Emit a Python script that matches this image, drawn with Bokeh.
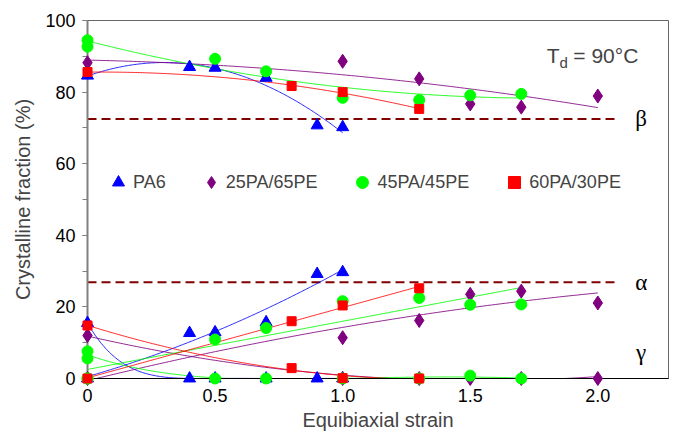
import numpy as np
from bokeh.plotting import figure
from bokeh.models import (Range1d, FixedTicker, SingleIntervalTicker, Legend,
                          LegendItem, Label)
from bokeh.embed import file_html
from bokeh.resources import INLINE

# Crystalline phase fractions (%) versus equibiaxial strain, T_d = 90 °C
strain_pa6 = [0, 0.4, 0.5, 0.7, 0.9, 1.0]
beta_pa6 = [84.6, 87.0, 86.8, 84.0, 70.7, 70.2]
alpha_pa6 = [0, 12.7, 12.9, 15.7, 29.2, 29.7]
gamma_pa6 = [15.5, 0, 0, 0, 0, 0]

strain_25pa = [0, 1.0, 1.3, 1.5, 1.7, 2.0]
beta_25pa = [88.2, 88.6, 83.7, 76.7, 75.8, 78.9]
alpha_25pa = [0, 11.4, 16.2, 23.5, 24.4, 21.1]
gamma_25pa = [12.0, 0, 0, 0, 0, 0]

strain_45pa = [0, 0, 0.5, 0.7, 1.0, 1.3, 1.5, 1.7]
beta_45pa = [94.5, 92.7, 89.3, 85.8, 78.4, 77.8, 79.1, 79.5]
alpha_45pa = [0, 0, 10.9, 14.1, 21.6, 22.5, 20.6, 20.7]
gamma_45pa = [5.6, 7.6, 0, 0, 0, 0, 0.8, 0]

strain_60pa = [0, 0.8, 1.0, 1.3]
beta_60pa = [85.6, 81.7, 80.0, 75.3]
alpha_60pa = [0, 16.0, 20.4, 25.2]
gamma_60pa = [14.8, 2.9, 0.1, 0]

series_names = ["PA6", "25PA/65PE", "45PA/45PE", "60PA/30PE"]

# polynomial order of the trend curve for (beta, alpha, gamma)
fit_orders = [(3, 2, 5), (2, 2, 2), (2, 1, 4), (2, 1, 2)]

# reference levels of the beta and alpha phases
beta_level = 72.5
alpha_level = 26.9
level_end = 2.08

x_ticks = [0, 0.5, 1.0, 1.5, 2.0]
x_tick_text = ["0", "0.5", "1.0", "1.5", "2.0"]

data = [
    (strain_pa6, beta_pa6, alpha_pa6, gamma_pa6),
    (strain_25pa, beta_25pa, alpha_25pa, gamma_25pa),
    (strain_45pa, beta_45pa, alpha_45pa, gamma_45pa),
    (strain_60pa, beta_60pa, alpha_60pa, gamma_60pa),
]

styles = [
    dict(color="#0000FF", marker="triangle", size=12),
    dict(color="#800080", marker="diamond", size=14),
    dict(color="#00FF00", marker="circle", size=11),
    dict(color="#FF0000", marker="square", size=9),
]

FONT = "Liberation Sans"

p = figure(width=678, height=438, output_backend="svg", toolbar_location=None,
           x_range=Range1d(0, 2.277), y_range=Range1d(0, 100),
           min_border_left=87, min_border_right=10, min_border_top=20,
           min_border_bottom=60)
p.background_fill_color = "white"
p.border_fill_color = "white"
p.outline_line_color = "#666666"
p.outline_line_width = 1
p.grid.visible = False

# x axis
xa = p.xaxis[0]
xa.ticker = FixedTicker(ticks=x_ticks)
xa.major_label_overrides = {t: s for t, s in zip(x_ticks, x_tick_text)}
xa.axis_line_color = "black"
xa.axis_line_width = 1
xa.major_tick_out = 0
xa.major_tick_in = 0
xa.minor_tick_out = 0
xa.minor_tick_in = 0
xa.major_label_standoff = 10
xa.major_label_text_font = FONT
xa.major_label_text_font_size = "18px"
xa.major_label_text_color = "black"
xa.axis_label = "Equibiaxial strain"
xa.axis_label_text_font = FONT
xa.axis_label_text_font_size = "20px"
xa.axis_label_text_font_style = "normal"
xa.axis_label_standoff = 4

# y axis
ya = p.yaxis[0]
ya.ticker = SingleIntervalTicker(interval=20, num_minor_ticks=2)
ya.axis_line_color = "#808080"
ya.axis_line_width = 2
ya.major_tick_line_color = "#808080"
ya.minor_tick_line_color = "#808080"
ya.major_tick_out = 5
ya.major_tick_in = 0
ya.minor_tick_out = 5
ya.minor_tick_in = 0
ya.major_label_standoff = 7
ya.major_label_text_font = FONT
ya.major_label_text_font_size = "18px"
ya.major_label_text_color = "black"
ya.axis_label = "Crystalline fraction (%)"
ya.axis_label_text_font = FONT
ya.axis_label_text_font_size = "20px"
ya.axis_label_text_font_style = "normal"
ya.axis_label_standoff = 8

# reference levels
for lvl in (beta_level, alpha_level):
    p.line([0, level_end], [lvl, lvl], line_color="#800000", line_width=2,
           line_dash="9 5")

# polynomial trend curves for each phase
for (strain, beta, alpha, gamma), orders, st in zip(data, fit_orders, styles):
    xs = np.asarray(strain, dtype=float)
    xf = np.linspace(xs.min(), xs.max(), 200)
    for ys, deg in zip((beta, alpha, gamma), orders):
        coef = np.polyfit(xs, np.asarray(ys, dtype=float), deg)
        p.line(xf, np.polyval(coef, xf), line_color=st["color"], line_width=1,
               line_alpha=0.85)

# measured points
items = []
for name, (strain, beta, alpha, gamma), st in zip(series_names, data, styles):
    xs = list(strain) * 3
    ys = list(beta) + list(alpha) + list(gamma)
    r = p.scatter(xs, ys, marker=st["marker"], size=st["size"],
                  fill_color=st["color"], line_color=st["color"],
                  level="overlay")
    items.append(LegendItem(label=name, renderers=[r]))

legend = Legend(items=items, orientation="horizontal", location=(16, 181),
                glyph_width=30, glyph_height=30, label_standoff=-3, spacing=30,
                padding=0, margin=0, border_line_color=None,
                background_fill_alpha=0, label_text_font=FONT,
                label_text_font_size="18px", label_height=30)
p.add_layout(legend)

# phase labels
for txt, yv in (("β", beta_level), ("α", alpha_level), ("γ", 7.2)):
    p.add_layout(Label(x=2.17, y=yv, text=txt, text_align="center",
                       text_baseline="middle", text_font="Liberation Serif",
                       text_font_size="23px", text_color="black"))

# drawing temperature
p.add_layout(Label(x=1.80, y=90.2, text="T", text_font=FONT,
                   text_font_size="21px", text_baseline="alphabetic"))
p.add_layout(Label(x=1.85, y=88.4, text="d", text_font=FONT,
                   text_font_size="15px", text_baseline="alphabetic"))
p.add_layout(Label(x=1.904, y=90.2, text="= 90°C", text_font=FONT,
                   text_font_size="21px", text_baseline="alphabetic"))

open("out.html", "w").write(file_html(p, INLINE))
